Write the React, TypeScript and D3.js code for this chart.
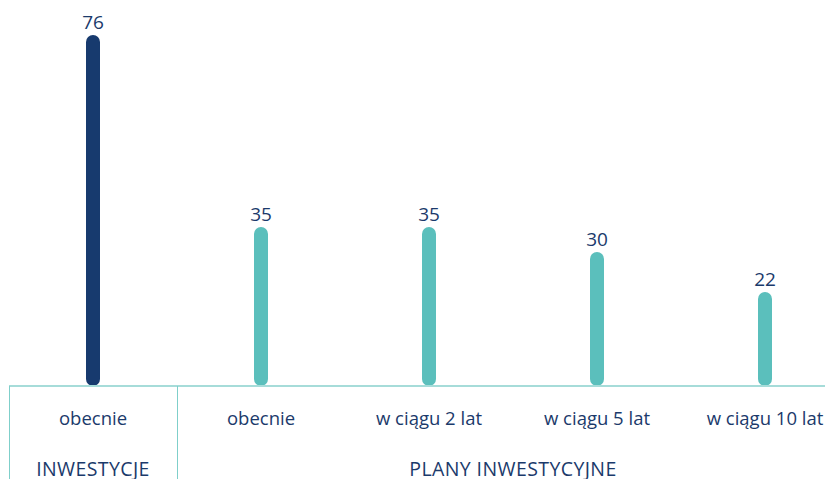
import React, { useEffect, useRef } from "react";
import * as d3 from "d3";

const categories = ["obecnie", "obecnie", "w ciągu 2 lat", "w ciągu 5 lat", "w ciągu 10 lat"];
const values = [76, 35, 35, 30, 22];
const groups = ["INWESTYCJE", "PLANY INWESTYCYJNE", "PLANY INWESTYCYJNE", "PLANY INWESTYCYJNE", "PLANY INWESTYCYJNE"];
const groupNames = ["INWESTYCJE", "PLANY INWESTYCYJNE"];

const App = () => {
  const ref = useRef<SVGSVGElement>(null);

  useEffect(() => {
    const width = 825;
    const height = 479;
    const left = 9;
    const baseline = 386;
    const barW = 14;
    const navy = "#1b3a6b";
    const font = "'Open Sans', sans-serif";

    const svg = d3.select(ref.current);
    svg.selectAll("*").remove();

    const x = d3.scaleBand<number>()
      .domain(d3.range(categories.length))
      .range([left, left + 168 * categories.length])
      .padding(0);

    // plot area tops out at y=35, the tallest bar gets clipped there
    const y = d3.scaleLinear()
      .domain([0, 73.4])
      .range([402, 35])
      .clamp(true);

    const g = svg.append("g");

    // bars
    g.selectAll("rect.bar")
      .data(values)
      .enter()
      .append("rect")
      .attr("class", "bar")
      .attr("x", (d, i) => x(i)! + x.bandwidth() / 2 - barW / 2)
      .attr("y", d => y(d))
      .attr("width", barW)
      .attr("height", d => baseline - y(d))
      .attr("rx", barW / 2)
      .attr("fill", (d, i) => (i === 0 ? "#173a6e" : "#5bbfbc"));

    // value labels
    g.selectAll("text.val")
      .data(values)
      .enter()
      .append("text")
      .attr("class", "val")
      .attr("x", (d, i) => x(i)! + x.bandwidth() / 2)
      .attr("y", d => y(d) - 6)
      .attr("text-anchor", "middle")
      .attr("font-family", font)
      .attr("font-size", "19px")
      .attr("fill", navy)
      .text(d => d);

    // axis line
    g.append("line")
      .attr("x1", left)
      .attr("x2", width)
      .attr("y1", baseline)
      .attr("y2", baseline)
      .attr("stroke", "#a6dcd9")
      .attr("stroke-width", 2);

    // group separators
    const seps = [left, x(1)!];
    g.selectAll("line.sep")
      .data(seps)
      .enter()
      .append("line")
      .attr("class", "sep")
      .attr("x1", d => d + 0.5)
      .attr("x2", d => d + 0.5)
      .attr("y1", baseline)
      .attr("y2", height)
      .attr("stroke", "#7fcfca")
      .attr("stroke-width", 1);

    // category labels
    g.selectAll("text.cat")
      .data(categories)
      .enter()
      .append("text")
      .attr("class", "cat")
      .attr("x", (d, i) => x(i)! + x.bandwidth() / 2)
      .attr("y", 425)
      .attr("text-anchor", "middle")
      .attr("font-family", font)
      .attr("font-size", "18.5px")
      .attr("fill", navy)
      .text(d => d);

    // group labels
    const groupPos = groupNames.map(name => {
      const idx = groups.map((gr, i) => (gr === name ? i : -1)).filter(i => i >= 0);
      const x0 = x(idx[0])!;
      const x1 = x(idx[idx.length - 1])! + x.bandwidth();
      return { name, cx: (x0 + x1) / 2 };
    });

    g.selectAll("text.grp")
      .data(groupPos)
      .enter()
      .append("text")
      .attr("class", "grp")
      .attr("x", d => d.cx)
      .attr("y", 476)
      .attr("text-anchor", "middle")
      .attr("font-family", font)
      .attr("font-size", "19.5px")
      .attr("letter-spacing", "0.4px")
      .attr("fill", navy)
      .text(d => d.name);
  }, []);

  return (
    <svg
      ref={ref}
      width={825}
      height={479}
      style={{ position: "absolute", left: 0, top: 0, display: "block", background: "#fff" }}
    />
  );
};

export default App;
